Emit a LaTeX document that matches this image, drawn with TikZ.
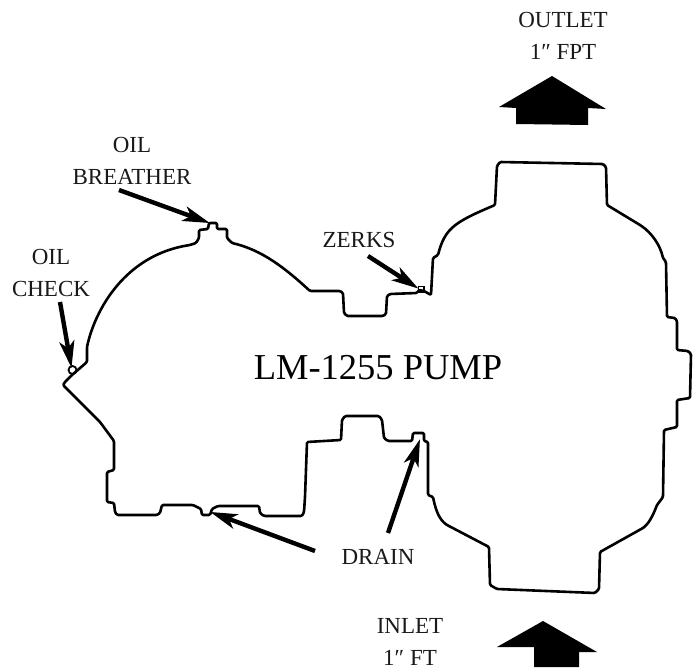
\documentclass[tikz,border=0pt]{standalone}
\usepackage{fontspec}
\setmainfont{Liberation Serif}
\usetikzlibrary{arrows.meta}
\tikzset{
  outline/.style={line width=2.6pt,line join=round,rounded corners=1.2pt,color=black},
  callout/.style={line width=4.4pt,-{Stealth[length=27pt,width=15pt,inset=7pt]},shorten >=-3pt,color=black},
  bigarrow/.style={fill=black,draw=none},
  lab/.style={inner sep=0pt,outer sep=0pt,align=center,text=black!90,font=\fontsize{23}{31.5}\selectfont},
  title/.style={inner sep=0pt,outer sep=0pt,text=black,font=\fontsize{36.5}{40}\selectfont}
}
\begin{document}
\begin{tikzpicture}[x=1pt,y=-1pt]
\useasboundingbox (0,0) rectangle (697,669);
% pump outline
\draw[outline]
 (63,385) -- (65,382) -- (72,375) -- (87,362) -- (87,347)
 .. controls (95,310) and (125,255) .. (190,245)
 -- (196,243) -- (199,238) -- (199,230) -- (208,229) -- (209,223) -- (217,223) -- (217,229) -- (227,229) -- (227,238) -- (232,243)
 .. controls (262,250) and (285,268) .. (310,291)
 -- (340,291) -- (343,293) -- (344,313) -- (347,316) -- (383,316) -- (386,314) -- (387,296) -- (390,294) -- (417,293) -- (419,290)
 -- (424,291) -- (431,295) -- (433,258) -- (438,255)
 .. controls (445,228) and (455,222) .. (495,205)
 -- (497,166) -- (500,162) -- (603,164) -- (606,167) -- (607,205) -- (640,225)
 .. controls (652,233) and (660,245) .. (663,258)
 -- (666,262) -- (667,317) -- (675,318) -- (677,321) -- (677,350) -- (688,351) -- (691,354) -- (690,398) -- (677,400) -- (677,427) -- (664,430) -- (663,497) -- (657,505)
 .. controls (652,518) and (648,524) .. (643,528)
 -- (600,552) -- (599,589) -- (595,593) -- (497,589) -- (490,585) -- (489,547) -- (447,525)
 .. controls (440,520) and (436,512) .. (433,497)
 -- (428,495) -- (428,442) -- (424,441) -- (424,433) -- (413,433) -- (412,441) -- (388,441) -- (384,438) -- (382,420) -- (379,416) -- (345,416) -- (342,420) -- (341,440) -- (307,442) -- (305,497) -- (304,512) -- (302,516) -- (264,516) -- (260,513) -- (259,506) -- (218,506) -- (212,509) -- (210,515) -- (202,515) -- (201,509) -- (193,505) -- (162,505) -- (160,513) -- (157,515) -- (117,515) -- (115,512) -- (114,503) -- (107,502) -- (107,472) -- (114,470) -- (114,441) -- (100,422) -- (65,387) -- cycle;
\draw[line width=1.8pt,color=black] (72.5,370) circle[radius=4];
\draw[line width=1.8pt,color=black] (418.5,286.5) rectangle (424,292);
% block arrows
\fill[bigarrow] (552,76) -- (499,107) -- (516,108) -- (516,124) -- (588,125) -- (588,108) -- (606,109) -- cycle;
\fill[bigarrow] (543,621) -- (497,647) -- (534,647) -- (534,667) -- (579,667) -- (579,652) -- (597,652) -- cycle;
% labels
\node[lab] (outlet) at (563,36) {OUTLET\\1″ FPT};
\node[lab] (breather) at (132,161) {OIL\\BREATHER};
\node[lab] (check) at (51,273) {OIL\\CHECK};
\node[lab] (zerks) at (359,240) {ZERKS};
\node[lab] (drain) at (378,557) {DRAIN};
\node[lab] (inlet) at (410,642) {INLET\\1″ FT};
\node[title] (pump) at (378,368) {LM-1255 PUMP};
% callouts
\coordinate (bt) at (119,190); \coordinate (bh) at (207,222);
\coordinate (ct) at (60,302);  \coordinate (ch) at (71,365);
\coordinate (zt) at (368,256); \coordinate (zh) at (416,287);
\coordinate (dt) at (315,551); \coordinate (dh) at (213,513);
\coordinate (et) at (388,533); \coordinate (eh) at (419,442);
\draw[callout] (bt) -- (bh);
\draw[callout] (ct) -- (ch);
\draw[callout] (zt) -- (zh);
\draw[callout] (dt) -- (dh);
\draw[callout] (et) -- (eh);
\end{tikzpicture}
\end{document}
